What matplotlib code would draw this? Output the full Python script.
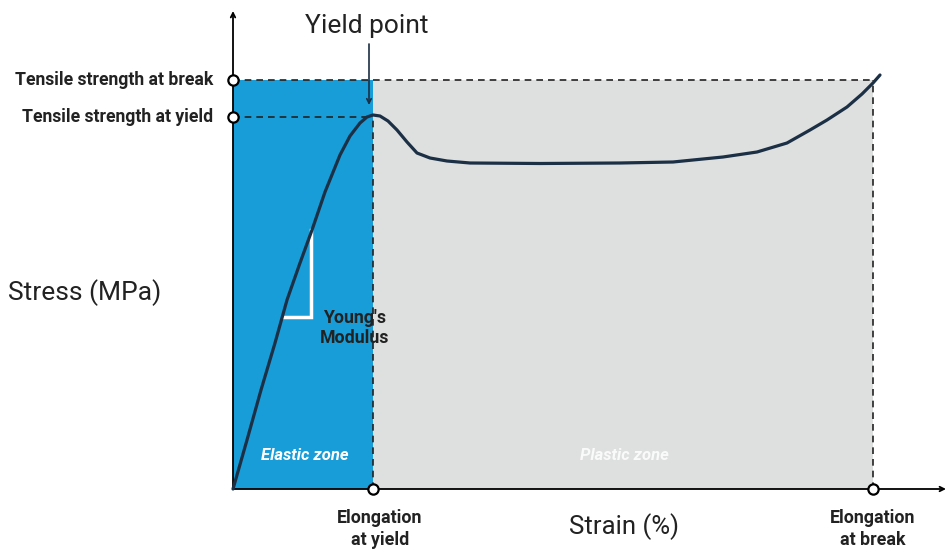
import matplotlib.pyplot as plt

# schematic stress-strain curve (arbitrary units)
strain = [0, 14, 28, 42, 54, 67, 79, 92, 107, 117, 127, 134, 140, 147, 155, 164,
          174, 184, 197, 214, 237, 307, 387, 440, 490, 524, 554, 577, 594, 614,
          629, 640, 647]
stress = [0, 49, 99, 146, 189, 226, 259, 297, 334, 353, 366, 372, 374, 373, 368, 359,
          347, 336, 331, 328, 326, 325.5, 326, 327, 332, 337, 346, 359, 369, 382,
          395, 406, 414]

yield_strain = 140
break_strain = 640
yield_stress = 372
break_stress = 409

blue = '#189dd8'
grey = '#dedfdf'
navy = '#1b2f45'

plt.rcParams['font.family'] = ['Roboto', 'DejaVu Sans']

fig = plt.figure(figsize=(9.47, 5.5), dpi=100)
ax = fig.add_axes([0, 0, 1, 1])
ax.set_xlim(-233, 714)
ax.set_ylim(-61, 489)
ax.axis('off')

# zones
ax.fill_between([0, yield_strain], 0, break_stress, color=blue, lw=0, zorder=1)
ax.fill_between([yield_strain, break_strain], 0, break_stress, color=grey, lw=0, zorder=1)

# dashed guides
dash = dict(color='#222222', lw=1.2, dashes=(4, 3), zorder=2)
ax.plot([0, break_strain], [break_stress, break_stress], **dash)
ax.plot([0, yield_strain], [yield_stress, yield_stress], **dash)
ax.plot([yield_strain, yield_strain], [0, yield_stress], **dash)
ax.plot([break_strain, break_strain], [0, break_stress], **dash)

# axes with arrows
ax.annotate('', xy=(0, 478), xytext=(0, 0),
            arrowprops=dict(arrowstyle='->', color='black', lw=1.3, shrinkA=0, shrinkB=0,
                            mutation_scale=8), zorder=3)
ax.annotate('', xy=(713, 0), xytext=(0, 0),
            arrowprops=dict(arrowstyle='->', color='black', lw=1.3, shrinkA=0, shrinkB=0,
                            mutation_scale=8), zorder=3)

# Young's modulus triangle
ax.plot([50, 78, 78], [172, 172, 259], color='white', lw=2.5, zorder=4,
        solid_joinstyle='miter')

# curve
ax.plot(strain, stress, color=navy, lw=2.3, zorder=5, solid_capstyle='round',
        solid_joinstyle='round')

# marker circles
ax.scatter([0, 0, yield_strain, break_strain], [break_stress, yield_stress, 0, 0],
           s=55, facecolor='white', edgecolor='black', linewidth=1.6, zorder=6)

# yield point arrow
ax.annotate('', xy=(136, 384), xytext=(136, 445),
            arrowprops=dict(arrowstyle='->', color=navy, lw=1.2, shrinkA=0, shrinkB=0,
                            mutation_scale=8), zorder=6)

# texts
ax.text(134, 463, 'Yield point', fontsize=19, color='#222222', ha='center', va='center')
ax.text(-20, break_stress, 'Tensile strength at break', fontsize=12.7, fontweight='bold',
        color='#222222', ha='right', va='center')
ax.text(-20, yield_stress, 'Tensile strength at yield', fontsize=12.7, fontweight='bold',
        color='#222222', ha='right', va='center')
ax.text(-148, 196, 'Stress (MPa)', fontsize=19, color='#222222', ha='center', va='center')
ax.text(391, -38, 'Strain (%)', fontsize=18.5, color='#222222', ha='center', va='center')
ax.text(122, 161, "Young's\nModulus", fontsize=12.8, fontweight='bold', color='#222222',
        ha='center', va='center', linespacing=1.2, zorder=7)
ax.text(147, -40, 'Elongation\nat yield', fontsize=12.8, fontweight='bold', color='#222222',
        ha='center', va='center', linespacing=1.35)
ax.text(break_strain, -40, 'Elongation\nat break', fontsize=12.8, fontweight='bold',
        color='#222222', ha='center', va='center', linespacing=1.35)
ax.text(72, 34, 'Elastic zone', fontsize=12, fontweight='bold', fontstyle='italic',
        color='white', ha='center', va='center')
ax.text(391, 34, 'Plastic zone', fontsize=12, fontweight='bold', fontstyle='italic',
        color='white', alpha=0.85, ha='center', va='center')

fig.savefig('out.png', dpi=100)
